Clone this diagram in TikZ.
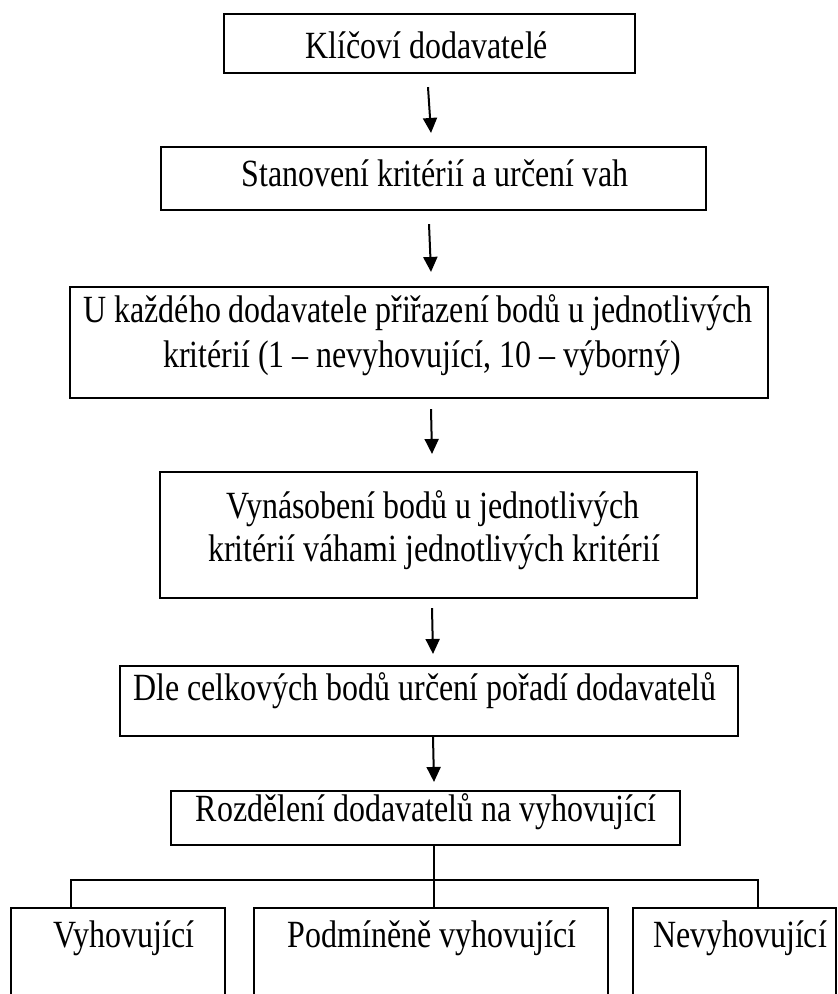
\documentclass[tikz,border=0pt]{standalone}
\usepackage{fontspec}
\setmainfont{Liberation Serif}[FakeStretch=0.83]
\usetikzlibrary{arrows.meta}
\begin{document}
\begin{tikzpicture}[x=1pt,y=-1pt,
  box/.style={draw, line width=2.1pt, inner sep=0pt},
  txt/.style={inner sep=0pt, anchor=base, font=\fontsize{38.5}{44}\selectfont},
  arr/.style={line width=2pt, -{Triangle[width=14pt,length=15pt]}},
  conn/.style={line width=2pt}]
\useasboundingbox[fill=white] (0,0) rectangle (838,994);
\clip (0,0) rectangle (838,994);

% boxes
\node[box, minimum width=411pt, minimum height=59pt] (b1) at (429.5,43.5) {};
\node[box, minimum width=545pt, minimum height=63pt] (b2) at (433.5,178.5) {};
\node[box, minimum width=698pt, minimum height=111pt] (b3) at (419,342.5) {};
\node[box, minimum width=537pt, minimum height=126pt] (b4) at (428.5,535) {};
\node[box, minimum width=618pt, minimum height=70pt] (b5) at (429,701) {};
\node[box, minimum width=509pt, minimum height=54pt] (b6) at (425.5,818) {};
\node[box, minimum width=214pt, minimum height=102pt] (left) at (118,959) {};
\node[box, minimum width=354pt, minimum height=102pt] (mid) at (431,959) {};
\node[box, minimum width=203pt, minimum height=102pt] (right) at (734.5,959) {};

% texts
\node[txt] (t1) at (427,58) {Klíčoví dodavatelé};
\node[txt] (t2) at (435,186) {Stanovení kritérií a určení vah};
\node[txt] (t3a) at (418,322) {U každého dodavatele přiřazení bodů u jednotlivých};
\node[txt] (t3b) at (422,367) {kritérií (1 – nevyhovující, 10 – výborný)};
\node[txt] (t4a) at (433,518) {Vynásobení bodů u jednotlivých};
\node[txt] (t4b) at (434,561) {kritérií váhami jednotlivých kritérií};
\node[txt] (t5) at (425,700) {Dle celkových bodů určení pořadí dodavatelů};
\node[txt] (t6) at (426,821) {Rozdělení dodavatelů na vyhovující};
\node[txt] (tl) at (124,947) {Vyhovující};
\node[txt] (tm) at (432,947) {Podmíněně vyhovující};
\node[txt] (tr) at (740,947) {Nevyhovující};

% arrows
\draw[arr] ([xshift=-1.5pt,yshift=-13pt]b1.south) -- ([xshift=-2.5pt,yshift=13pt]b2.north);
\draw[arr] ([xshift=-4.5pt,yshift=-13pt]b2.south) -- ([xshift=12pt,yshift=14pt]b3.north);
\draw[arr] ([xshift=12pt,yshift=-10pt]b3.south) -- ([xshift=3.5pt,yshift=17pt]b4.north);
\draw[arr] ([xshift=3.5pt,yshift=-9pt]b4.south) -- ([xshift=4pt,yshift=11pt]b5.north);
\draw[arr] ([xshift=4pt]b5.south) -- ([xshift=8.5pt,yshift=8pt]b6.north);

% tree connectors
\coordinate (busL) at (71,880);
\coordinate (busR) at (758,880);
\coordinate (stem) at (434,845);
\draw[conn] (b6.south -| stem) -- (stem |- mid.north);
\draw[conn] (left.north -| busL) -- (busL) -- (busR) -- (right.north -| busR);
\end{tikzpicture}
\end{document}
